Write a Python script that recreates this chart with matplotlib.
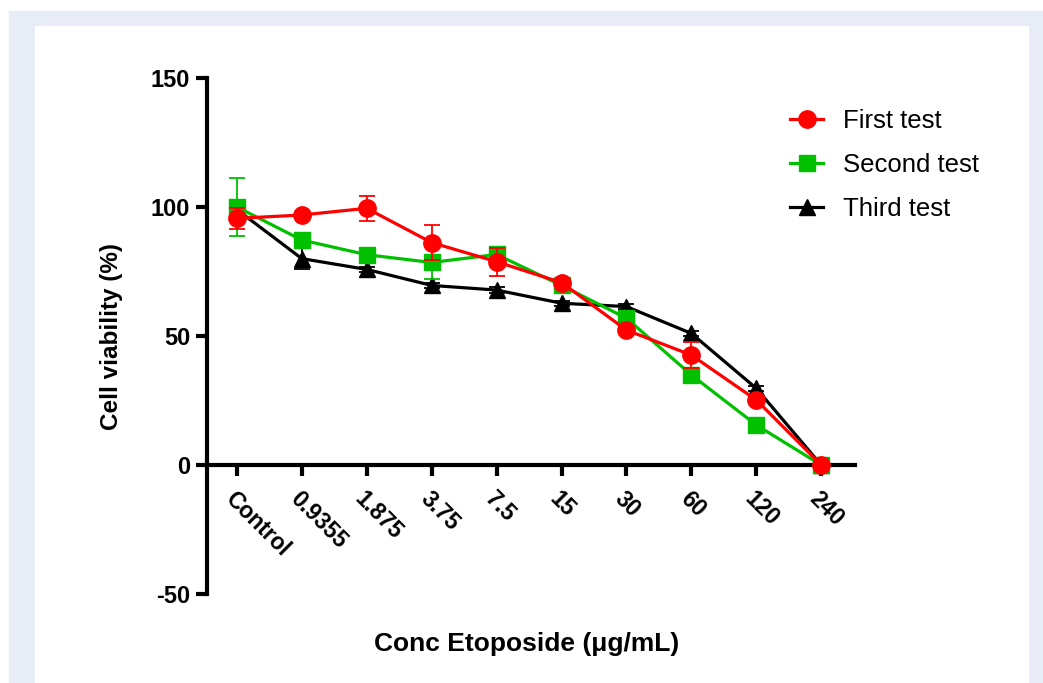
import numpy as np
import matplotlib
matplotlib.use("Agg")
import matplotlib.pyplot as plt
from matplotlib.patches import Rectangle

plt.rcParams['font.family'] = ['Liberation Sans', 'DejaVu Sans']
plt.rcParams['axes.unicode_minus'] = False

doses = ["Control", "0.9355", "1.875", "3.75", "7.5", "15", "30", "60", "120", "240"]

first = [95.6, 96.9, 99.5, 86.2, 78.8, 70.7, 52.3, 42.6, 25.2, 0]
first_err = [4.0, 1.0, 4.8, 6.8, 5.5, 1.0, 1.0, 5.0, 1.0, 0]

second = [100.0, 87.2, 81.5, 78.5, 81.6, 69.6, 56.9, 34.9, 15.5, 0]
second_err = [11.2, 1.0, 1.0, 6.5, 2.5, 1.0, 1.0, 1.0, 1.0, 0]

third = [99.0, 80.0, 75.8, 69.6, 67.8, 62.7, 61.4, 51.0, 29.7, 0]
third_err = [1.0, 4.0, 1.0, 1.0, 1.0, 1.0, 1.0, 1.0, 1.0, 0]

fig = plt.figure(figsize=(10.43, 6.83), dpi=100)
# page frame
fig.patches.append(Rectangle((9/1043, 0), 1 - 9/1043, 1 - 11/683,
                             transform=fig.transFigure, color="#e8ecf7", zorder=-2))
fig.patches.append(Rectangle((35/1043, 0), (1028-35)/1043, 1 - 26/683,
                             transform=fig.transFigure, color="white", zorder=-1))

ax = fig.add_axes([207/1043, 1 - 594/683, (855-207)/1043, (594-78)/683])
ax.patch.set_alpha(0)

ax.spines["top"].set_visible(False)
ax.spines["right"].set_visible(False)
ax.spines["bottom"].set_position(("data", 0))
for s in ("left", "bottom"):
    ax.spines[s].set_linewidth(3)

x = np.arange(len(doses))
series = [
    (third, third_err, "black", "^", 11, "Third test"),
    (second, second_err, "#00c000", "s", 11, "Second test"),
    (first, first_err, "#ff0000", "o", 12.5, "First test"),
]
handles = {}
for z, (vals, err, col, mk, ms, lab) in enumerate(series):
    ax.errorbar(x, vals, yerr=err, fmt="none", ecolor=col, elinewidth=1.3,
                capsize=6, capthick=1.3, zorder=3 + 2 * z)
    h, = ax.plot(x, vals, color=col, marker=mk, markersize=ms, lw=2.3,
                 label=lab, zorder=4 + 2 * z, clip_on=False)
    handles[lab] = h

ax.set_xlim(-0.46, 9.52)
ax.set_ylim(-50, 150)
ax.set_yticks([-50, 0, 50, 100, 150])
ax.set_yticklabels(["-50", "0", "50", "100", "150"], fontsize=17, fontweight="bold")
ax.set_xticks(x)
ax.set_xticklabels(doses, rotation=-45, ha="left", va="top",
                   rotation_mode="anchor", fontsize=16.5, fontweight="bold")
ax.tick_params(axis="both", width=3, length=8, direction="out")
ax.tick_params(axis="x", pad=8)
ax.tick_params(axis="y", pad=4)

ax.set_ylabel("Cell viability (%)", fontsize=17.5, fontweight="bold", labelpad=20)
fig.text(527/1043, 1 - 644/683, "Conc Etoposide (\u03bcg/mL)", fontsize=19,
         fontweight="bold", ha="center", va="center")

order = ["First test", "Second test", "Third test"]
fig.legend([handles[k] for k in order], order, loc="upper left",
           bbox_to_anchor=(790/1043, 1 - 109/683), frameon=False, fontsize=18.5,
           handlelength=1.3, handletextpad=0.78, labelspacing=0.77,
           borderpad=0, borderaxespad=0)

fig.savefig("out.png", dpi=100)
